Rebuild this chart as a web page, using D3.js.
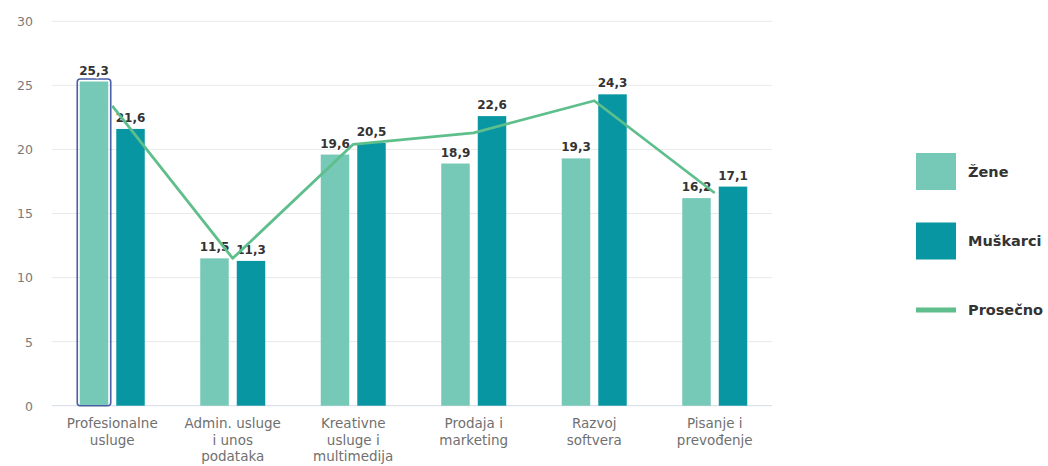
<!DOCTYPE html>
<html>
<head>
<meta charset="utf-8">
<script src="https://cdn.jsdelivr.net/npm/d3@7"></script>
<style>
  html, body { margin: 0; padding: 0; background: #fff; }
  svg { display: block; }
</style>
</head>
<body>
<svg id="chart" width="1048" height="466"></svg>
<script>
// Categories (multi-line axis labels split on "\n")
const categories = [
  "Profesionalne\nusluge",
  "Admin. usluge\ni unos\npodataka",
  "Kreativne\nusluge i\nmultimedija",
  "Prodaja i\nmarketing",
  "Razvoj\nsoftvera",
  "Pisanje i\nprevođenje"
];
const seriesNames = ["Žene", "Muškarci"];
const zene     = [25.3, 11.5, 19.6, 18.9, 19.3, 16.2];
const muskarci = [21.6, 11.3, 20.5, 22.6, 24.3, 17.1];
const prosecno = [23.4, 11.5, 20.4, 21.3, 23.8, 16.6];
const yTicks   = [0, 5, 10, 15, 20, 25, 30];

const colors = { "Žene": "#76c8b7", "Muškarci": "#0896a2", "Prosečno": "#5ebf8c" };

const svg = d3.select("#chart");
const plot = { left: 52, right: 775, top: 21.3, bottom: 405.7 };

const x0 = d3.scaleBand().domain(categories).range([plot.left, plot.right]).padding(0);
const groupW = 65;
const x1 = d3.scaleBand().domain(seriesNames).range([0, groupW]).paddingInner(0.22);
const y = d3.scaleLinear().domain([0, 30]).range([plot.bottom, plot.top]);
const fmt = v => d3.format(".1f")(v).replace(".", ",");
const center = c => x0(c) + x0.bandwidth() / 2;

// Horizontal grid
svg.append("g")
  .selectAll("line")
  .data(yTicks.filter(t => t > 0))
  .join("line")
  .attr("x1", plot.left).attr("x2", plot.right - 3)
  .attr("y1", d => y(d)).attr("y2", d => y(d))
  .attr("stroke", "#e9e9e9").attr("stroke-width", 1);

// Baseline
svg.append("line")
  .attr("x1", plot.left).attr("x2", plot.right - 3)
  .attr("y1", y(0)).attr("y2", y(0))
  .attr("stroke", "#d6dbe6").attr("stroke-width", 1);

// Y axis labels
const yAxis = d3.axisLeft(y).tickValues(yTicks).tickSize(0).tickPadding(0);
const gy = svg.append("g").attr("transform", "translate(33,0)").call(yAxis);
gy.select(".domain").remove();
gy.selectAll("text")
  .attr("font-family", "DejaVu Sans, sans-serif")
  .attr("font-size", "12.5px")
  .attr("fill", "#7a7a7a")
  .attr("dy", "0.35em");

// Bars
const rows = categories.map((c, i) => ({ c, i, values: [
  { key: "Žene", v: zene[i] },
  { key: "Muškarci", v: muskarci[i] }
]}));

const groups = svg.append("g").selectAll("g")
  .data(rows).join("g")
  .attr("transform", d => `translate(${center(d.c) - groupW / 2},0)`);

groups.selectAll("rect")
  .data(d => d.values.map(v => ({ ...v, i: d.i })))
  .join("rect")
  .attr("x", d => x1(d.key))
  .attr("width", x1.bandwidth())
  .attr("y", d => y(d.v))
  .attr("height", d => y(0) - y(d.v))
  .attr("fill", d => colors[d.key]);

// Highlight outline around the first bar
groups.filter(d => d.i === 0)
  .append("rect")
  .attr("x", x1("Žene") - 2.5)
  .attr("width", x1.bandwidth() + 5)
  .attr("y", y(zene[0]) - 2.5)
  .attr("height", y(0) - y(zene[0]) + 2.5)
  .attr("rx", 3)
  .attr("fill", "none")
  .attr("stroke", "#4a5ea8")
  .attr("stroke-width", 1.6);

// Average line
const line = d3.line()
  .x((d, i) => center(categories[i]))
  .y(d => y(d));
svg.append("path")
  .datum(prosecno)
  .attr("d", line)
  .attr("fill", "none")
  .attr("stroke", colors["Prosečno"])
  .attr("stroke-width", 2.8)
  .attr("stroke-linejoin", "round");

// Data labels
groups.selectAll("text.val")
  .data(d => d.values)
  .join("text")
  .attr("class", "val")
  .attr("x", d => x1(d.key) + x1.bandwidth() / 2)
  .attr("y", d => y(d.v) - 7)
  .attr("text-anchor", "middle")
  .attr("font-family", "DejaVu Sans, sans-serif")
  .attr("font-weight", "bold")
  .attr("font-size", "12px")
  .attr("fill", "#333")
  .attr("stroke", "#fff")
  .attr("stroke-width", 2.5)
  .attr("paint-order", "stroke")
  .attr("stroke-linejoin", "round")
  .text(d => fmt(d.v));

// X axis labels
const xl = svg.append("g").selectAll("text")
  .data(categories).join("text")
  .attr("x", d => center(d))
  .attr("y", 428)
  .attr("text-anchor", "middle")
  .attr("font-family", "DejaVu Sans, sans-serif")
  .attr("font-size", "13.5px")
  .attr("fill", "#707070");
xl.selectAll("tspan")
  .data(d => d.split("\n"))
  .join("tspan")
  .attr("x", function () { return d3.select(this.parentNode).attr("x"); })
  .attr("dy", (d, i) => i === 0 ? 0 : 16.5)
  .text(d => d);

// Legend
const legend = svg.append("g");
const legendItems = [
  { key: "Žene", type: "rect", cy: 171.5 },
  { key: "Muškarci", type: "rect", cy: 241 },
  { key: "Prosečno", type: "line", cy: 310 }
];
legendItems.forEach(it => {
  if (it.type === "rect") {
    legend.append("rect")
      .attr("x", 916).attr("y", it.cy - 18.5)
      .attr("width", 40).attr("height", 37)
      .attr("fill", colors[it.key]);
  } else {
    legend.append("line")
      .attr("x1", 916).attr("x2", 956)
      .attr("y1", it.cy).attr("y2", it.cy)
      .attr("stroke", colors[it.key]).attr("stroke-width", 5);
  }
  legend.append("text")
    .attr("x", 968).attr("y", it.cy)
    .attr("dy", "0.35em")
    .attr("font-family", "DejaVu Sans, sans-serif")
    .attr("font-weight", "bold")
    .attr("font-size", "14.5px")
    .attr("fill", "#333")
    .text(it.key);
});
</script>
</body>
</html>
